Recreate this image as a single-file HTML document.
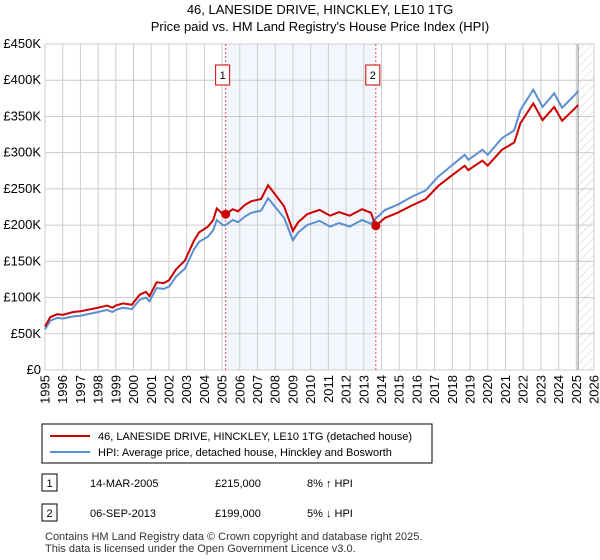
<!DOCTYPE html>
<html><head><meta charset="utf-8"><style>
body{margin:0;background:#fff;font-family:"Liberation Sans",sans-serif;color:#000}
#c{position:absolute;left:0;top:0}
</style></head><body>
<svg id="c" width="600" height="560" font-family="Liberation Sans, sans-serif">
<text x="320" y="14" text-anchor="middle" font-size="13">46, LANESIDE DRIVE, HINCKLEY, LE10 1TG</text>
<text x="320" y="31" text-anchor="middle" font-size="13">Price paid vs. HM Land Registry's House Price Index (HPI)</text>
<g id="plot"></g>
<rect x="42" y="424" width="390" height="39" fill="#fff" stroke="#000"/>
<line x1="50" y1="436" x2="90" y2="436" stroke="#cc0000" stroke-width="2"/>
<text x="98" y="440" font-size="11">46, LANESIDE DRIVE, HINCKLEY, LE10 1TG (detached house)</text>
<line x1="50" y1="452" x2="90" y2="452" stroke="#5b8fd0" stroke-width="2"/>
<text x="98" y="456" font-size="11">HPI: Average price, detached house, Hinckley and Bosworth</text>
<rect x="42" y="474" width="15" height="17" fill="#fff" stroke="#000"/>
<text x="49.5" y="487" font-size="11" text-anchor="middle">1</text>
<text x="90" y="487" font-size="11">14-MAR-2005</text>
<text x="215" y="487" font-size="11">£215,000</text>
<text x="307" y="487" font-size="11">8% ↑ HPI</text>
<rect x="42" y="504" width="15" height="17" fill="#fff" stroke="#000"/>
<text x="49.5" y="517" font-size="11" text-anchor="middle">2</text>
<text x="90" y="517" font-size="11">06-SEP-2013</text>
<text x="215" y="517" font-size="11">£199,000</text>
<text x="307" y="517" font-size="11">5% ↓ HPI</text>
<text x="45" y="540" font-size="11" fill="#333">Contains HM Land Registry data © Crown copyright and database right 2025.</text>
<text x="45" y="552" font-size="11" fill="#333">This data is licensed under the Open Government Licence v3.0.</text>
</svg>
<script>
const years=[1995.0,1995.3,1995.7,1996.0,1996.6,1997.0,1997.6,1998.0,1998.5,1998.8,1999.0,1999.4,1999.9,2000.35,2000.7,2000.9,2001.3,2001.7,2002.0,2002.4,2002.9,2003.4,2003.7,2004.2,2004.5,2004.7,2005.05,2005.2,2005.6,2005.9,2006.3,2006.65,2007.2,2007.6,2008.1,2008.5,2009.0,2009.3,2009.8,2010.5,2011.1,2011.6,2012.2,2012.9,2013.4,2013.68,2014.2,2014.9,2015.7,2016.5,2017.2,2018.0,2018.7,2018.9,2019.7,2020.0,2020.8,2021.5,2021.85,2022.57,2023.1,2023.75,2024.2,2025.0,2025.1];
const hpiValues=[56,68,72,71,74,75,78,80,83,80,83,86,84,97,100,95,113,112,115,129,140,166,177,184,193,207,200,200,207,204,212,217,220,237,222,210,179,190,200,206,198,203,198,207,202,209,221,228,239,248,267,283,297,290,304,297,320,331,359,387,363,382,362,382,385];
const priceValues=[60,73,77,76,80,81,84,86,89,86,89,92,90,104,108,102,121,120,124,139,151,178,190,198,207,223,215,215,222,219,228,233,236,255,239,226,192,204,215,221,213,218,213,222,217,199,210,217,227,236,254,269,282,276,289,282,304,314,341,368,345,363,344,363,366];
const yTicks=[0,50,100,150,200,250,300,350,400,450];
const yTickLabels=["£0","£50K","£100K","£150K","£200K","£250K","£300K","£350K","£400K","£450K"];
const xTicks=[1995,1996,1997,1998,1999,2000,2001,2002,2003,2004,2005,2006,2007,2008,2009,2010,2011,2012,2013,2014,2015,2016,2017,2018,2019,2020,2021,2022,2023,2024,2025,2026];
const saleYears=[2005.2,2013.68];
const salePrices=[215,199];
const saleLabels=["1","2"];
const dataEnd=2025.1;

const NS="http://www.w3.org/2000/svg";
const L=45,R=594,T=44,B=370;
const xs=y=>L+(y-1995)/(2026-1995)*(R-L);
const ys=v=>B-v/450*(B-T);
const g=document.getElementById('plot');
function mk(t,a){const e=document.createElementNS(NS,t);for(const k in a)e.setAttribute(k,a[k]);g.appendChild(e);return e;}
// shaded ownership region
let e=mk('rect',{x:xs(saleYears[0]),y:T,width:xs(saleYears[1])-xs(saleYears[0]),height:B-T,fill:'#eef3fc',opacity:0.7});


// hatch future
const defs=mk('defs',{});
defs.innerHTML='<pattern id="h" width="6" height="6" patternUnits="userSpaceOnUse" patternTransform="rotate(45)"><line x1="0" y1="0" x2="0" y2="6" stroke="#ccc" stroke-width="1"/></pattern>';
e=mk('rect',{x:xs(dataEnd),y:T,width:R-xs(dataEnd),height:B-T,fill:'url(#h)'});


// grid
yTicks.forEach((v,i)=>{
 let l=mk('line',{x1:L,x2:R,y1:ys(v),y2:ys(v),stroke:'#ccc'});
 
 
 let t=mk('text',{x:L-4,y:ys(v)+4,'text-anchor':'end','font-size':13});
 t.textContent=yTickLabels[i];
 
 
});
xTicks.forEach(y=>{
 let l=mk('line',{x1:xs(y),x2:xs(y),y1:T,y2:B,stroke:'#ccc'});
 
 
 let t=mk('text',{x:0,y:0,'text-anchor':'end','font-size':13,transform:`translate(${xs(y)+4.5},${B+5}) rotate(-90)`});
 t.textContent=y;
 
 
});
e=mk('rect',{x:L,y:T,width:R-L,height:B-T,fill:'none',stroke:'#ccc'});


e=mk('line',{x1:xs(dataEnd),x2:xs(dataEnd),y1:T,y2:B,stroke:'#888'});


// sale markers
saleYears.forEach((sy,i)=>{
 let l=mk('line',{x1:xs(sy),x2:xs(sy),y1:T,y2:B,stroke:'#e05050','stroke-dasharray':'2,2'});
 
 
 let r=mk('rect',{x:xs(sy)-7-3,y:65,width:14,height:20,fill:'#fff',stroke:'#c00'});
 
 
 let t=mk('text',{x:xs(sy)-3,y:79,'text-anchor':'middle','font-size':11});
 t.textContent=saleLabels[i];
 
 
});
// lines
const path=v=>years.map((y,i)=>(i?'L':'M')+xs(y).toFixed(1)+','+ys(v[i]).toFixed(1)).join('');
e=mk('path',{d:path(hpiValues),fill:'none',stroke:'#5b8fd0','stroke-width':2});


e=mk('path',{d:path(priceValues),fill:'none',stroke:'#cc0000','stroke-width':2});


saleYears.forEach((sy,i)=>{
 let c=mk('circle',{cx:xs(sy),cy:ys(salePrices[i]),r:4.5,fill:'#cc0000'});
 
 
});
</script>
</body></html>
